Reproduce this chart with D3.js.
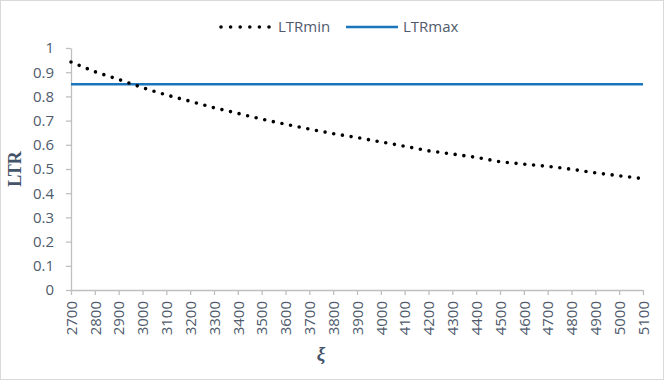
<!DOCTYPE html>
<html>
<head>
<meta charset="utf-8">
<script src="https://cdn.jsdelivr.net/npm/d3@7"></script>
<style>
    body { margin: 0; background: #fff; }
    svg text { font-family: "Open Sans", "Liberation Sans", sans-serif; fill: #4f5b6c; }
</style>
</head>
<body>
<svg id="chart" width="669" height="392"></svg>
<script>
// chart data
var xi = [2700, 2800, 2900, 3000, 3100, 3200, 3300, 3400, 3500, 3600, 3700, 3800, 3900,
          4000, 4100, 4200, 4300, 4400, 4500, 4600, 4700, 4800, 4900, 5000, 5100];
var ltrMin = [0.942, 0.902, 0.870, 0.836, 0.806, 0.780, 0.753, 0.730, 0.706, 0.685, 0.665, 0.646, 0.630,
              0.612, 0.594, 0.575, 0.562, 0.548, 0.530, 0.520, 0.511, 0.499, 0.484, 0.472, 0.460];
var ltrMax = xi.map(function () { return 0.85; });
var yTicks = [0, 0.1, 0.2, 0.3, 0.4, 0.5, 0.6, 0.7, 0.8, 0.9, 1];

var svg = d3.select("svg#chart"),
    margin = {top: 48, left: 71, bottom: 102, right: 26},
    width = 669 - margin.left - margin.right,
    height = 392 - margin.top - margin.bottom;

// outer frame
svg.append("rect")
    .attr("x", 0.5).attr("y", 0.5)
    .attr("width", 663).attr("height", 379)
    .attr("fill", "#fff")
    .attr("stroke", "#d9d9d9");

var g = svg.append("g").attr("transform", "translate(" + margin.left + "," + margin.top + ")");

var x = d3.scaleLinear().domain([xi[0], xi[xi.length - 1]]).range([0, width]);
var y = d3.scaleLinear().domain([0, 1]).range([height, 0]);

// axes
var xAxis = d3.axisBottom(x).tickValues(xi).tickSize(5).tickSizeOuter(0).tickFormat(d3.format("d"));
var yAxis = d3.axisLeft(y).tickValues(yTicks).tickSize(5).tickSizeOuter(0).tickFormat(function (d) { return d; });

var gx = g.append("g")
    .attr("transform", "translate(0," + height + ")")
    .call(xAxis);
gx.selectAll(".tick text")
    .attr("transform", "rotate(-90)")
    .attr("x", -11).attr("y", 0).attr("dy", "0.35em")
    .style("text-anchor", "end")
    .style("font-size", "15px");

var gy = g.append("g").call(yAxis);
gy.selectAll(".tick text")
    .attr("x", -17)
    .style("font-size", "15px");

[gx, gy].forEach(function (a) {
    a.select(".domain").attr("stroke", "#bfbfbf").attr("stroke-width", 1.3);
    a.selectAll(".tick line").attr("stroke", "#bfbfbf").attr("stroke-width", 1.3);
});

// lines
var line = function (vals) {
    return d3.line()
        .x(function (d, i) { return x(xi[i]); })
        .y(function (d) { return y(d); })(vals);
};

g.append("path")
    .attr("d", line(ltrMax))
    .attr("fill", "none")
    .attr("stroke", "#1b75bb")
    .attr("stroke-width", 2.6);

g.append("path")
    .attr("d", line(ltrMin))
    .attr("fill", "none")
    .attr("stroke", "#000")
    .attr("stroke-width", 3.6)
    .attr("stroke-linecap", "round")
    .attr("stroke-dasharray", "0,8.8");

// axis titles
svg.append("text")
    .attr("transform", "translate(21," + (margin.top + height / 2) + ") rotate(-90)")
    .attr("text-anchor", "middle")
    .style("font-family", "'Liberation Serif', 'DejaVu Serif', serif")
    .style("font-weight", "bold")
    .style("font-size", "18px")
    .style("fill", "#44546a")
    .text("LTR");

svg.append("text")
    .attr("x", 321).attr("y", 360)
    .attr("text-anchor", "middle")
    .style("font-family", "'Liberation Serif', 'DejaVu Serif', serif")
    .style("font-weight", "bold")
    .style("font-style", "italic")
    .style("font-size", "19px")
    .style("fill", "#44546a")
    .text("ξ");

// legend
var legend = svg.append("g").attr("transform", "translate(0,27)");
legend.append("line")
    .attr("x1", 221).attr("x2", 269).attr("y1", 0).attr("y2", 0)
    .attr("stroke", "#000").attr("stroke-width", 3.6)
    .attr("stroke-linecap", "round").attr("stroke-dasharray", "0,9.6");
legend.append("text").attr("x", 278).attr("y", 0).attr("dy", "0.35em")
    .style("font-size", "15px").text("LTRmin");
legend.append("line")
    .attr("x1", 346).attr("x2", 398).attr("y1", 0).attr("y2", 0)
    .attr("stroke", "#1b75bb").attr("stroke-width", 2.6);
legend.append("text").attr("x", 403).attr("y", 0).attr("dy", "0.35em")
    .style("font-size", "15px").text("LTRmax");
</script>
</body>
</html>
